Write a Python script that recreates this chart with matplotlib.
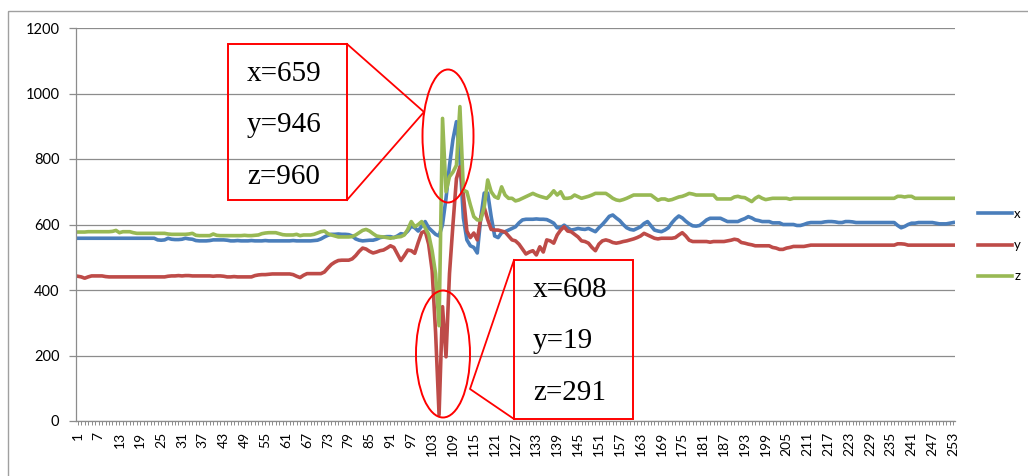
import matplotlib.pyplot as plt
from matplotlib.patches import Ellipse, Rectangle
import numpy as np

plt.rcParams['font.family'] = ['Lato', 'DejaVu Sans']

# series, one value per sample (1..253)
x_vals = [
    558, 558, 558, 558, 558, 558, 558, 558, 558, 558,
    558, 558, 558, 558, 558, 558, 558, 558, 558, 558,
    558, 558, 558, 553, 552, 553, 558, 555, 554, 554,
    555, 558, 556, 555, 551, 550, 550, 550, 551, 553,
    553, 553, 553, 552, 550, 550, 551, 550, 550, 550,
    551, 550, 550, 550, 551, 550, 550, 550, 550, 550,
    550, 550, 551, 550, 550, 550, 550, 550, 551, 552,
    556, 562, 567, 570, 570, 571, 570, 570, 569, 565,
    556, 552, 550, 551, 552, 552, 555, 560, 562, 563,
    563, 560, 565, 572, 570, 580, 595, 590, 580, 595,
    609, 590, 580, 570, 565, 600, 680, 780, 860, 914,
    800, 620, 553, 535, 530, 513, 620, 696, 696, 624,
    565, 560, 575, 578, 583, 588, 593, 605, 614, 616,
    616, 616, 617, 616, 616, 615, 610, 604, 590, 590,
    598, 590, 583, 585, 588, 586, 585, 588, 583, 578,
    590, 600, 612, 625, 629, 620, 612, 600, 590, 585,
    583, 588, 593, 603, 609, 596, 583, 580, 578, 583,
    590, 605, 617, 626, 620, 610, 602, 596, 595, 597,
    605, 614, 619, 619, 619, 619, 614, 609, 609, 609,
    609, 614, 618, 624, 620, 614, 612, 609, 609, 609,
    605, 605, 605, 600, 600, 600, 600, 597, 597, 600,
    604, 606, 606, 606, 606, 608, 609, 609, 608, 606,
    606, 609, 609, 608, 606, 606, 606, 606, 606, 606,
    606, 606, 606, 606, 606, 606, 597, 590, 594, 600,
    604, 604, 606, 606, 606, 606, 606, 604, 602, 602,
    602, 604, 606,
]

y_vals = [
    442, 440, 436, 440, 443, 443, 443, 443, 441, 440,
    440, 440, 440, 440, 440, 440, 440, 440, 440, 440,
    440, 440, 440, 440, 440, 440, 442, 443, 443, 444,
    443, 444, 444, 443, 443, 443, 443, 443, 443, 442,
    443, 443, 442, 440, 440, 441, 440, 440, 440, 440,
    440, 444, 446, 447, 447, 448, 449, 449, 449, 449,
    449, 449, 447, 442, 438, 445, 450, 450, 450, 450,
    450, 455, 467, 478, 485, 490, 491, 491, 491, 495,
    505, 518, 528, 525, 518, 513, 516, 520, 522, 528,
    535, 530, 510, 490, 505, 522, 520, 512, 545, 575,
    580, 540, 460, 270, 19, 349, 196, 450, 600, 740,
    776, 690, 580, 560, 574, 553, 620, 652, 615, 585,
    583, 583, 580, 577, 565, 553, 550, 540, 525, 510,
    516, 520, 507, 532, 516, 553, 550, 543, 568, 583,
    593, 580, 578, 570, 562, 550, 548, 543, 530, 520,
    540, 550, 553, 550, 545, 543, 545, 548, 550, 553,
    556, 560, 565, 573, 568, 563, 558, 556, 558, 558,
    558, 558, 560, 568, 575, 565, 552, 548, 548, 548,
    548, 548, 546, 548, 548, 548, 548, 550, 552, 555,
    553, 545, 543, 540, 538, 535, 535, 535, 535, 535,
    530, 528, 524, 524, 528, 530, 533, 533, 533, 533,
    535, 537, 537, 537, 537, 537, 537, 537, 537, 537,
    537, 537, 537, 537, 537, 537, 537, 537, 537, 537,
    537, 537, 537, 537, 537, 537, 541, 541, 540, 537,
    537, 537, 537, 537, 537, 537, 537, 537, 537, 537,
    537, 537, 537,
]

z_vals = [
    577, 577, 577, 578, 578, 578, 578, 578, 578, 578,
    579, 582, 575, 578, 578, 578, 575, 573, 573, 573,
    573, 573, 573, 573, 573, 573, 571, 570, 570, 570,
    570, 570, 571, 573, 567, 566, 566, 566, 566, 571,
    567, 566, 566, 566, 566, 566, 566, 566, 567, 566,
    566, 567, 568, 572, 574, 575, 575, 575, 572, 569,
    568, 568, 568, 570, 566, 568, 568, 568, 570, 574,
    578, 580, 572, 568, 565, 562, 562, 562, 562, 563,
    568, 575, 582, 585, 580, 572, 565, 563, 562, 560,
    558, 560, 562, 563, 568, 585, 609, 593, 600, 609,
    590, 570, 520, 450, 291, 924, 700, 746, 760, 781,
    960, 705, 700, 660, 624, 614, 614, 654, 736, 700,
    685, 680, 715, 690, 680, 680, 672, 675, 680, 685,
    690, 695, 690, 686, 683, 680, 690, 703, 690, 700,
    680, 680, 682, 690, 685, 680, 683, 686, 690, 695,
    695, 695, 695, 688, 680, 675, 673, 676, 680, 685,
    690, 690, 690, 690, 690, 690, 682, 674, 678, 678,
    674, 676, 680, 684, 686, 690, 695, 693, 690, 690,
    690, 690, 690, 690, 678, 678, 678, 678, 678, 684,
    686, 683, 682, 676, 670, 680, 686, 680, 676, 678,
    680, 680, 680, 680, 680, 677, 680, 680, 680, 680,
    680, 680, 680, 680, 680, 680, 680, 680, 680, 680,
    680, 680, 680, 680, 680, 680, 680, 680, 680, 680,
    680, 680, 680, 680, 680, 680, 686, 686, 684, 686,
    686, 680, 680, 680, 680, 680, 680, 680, 680, 680,
    680, 680, 680,
]

top_note = ['x=659', 'y=946', 'z=960']
low_note = ['x=608', 'y=19', 'z=291']

W, H = 1028, 476
fig = plt.figure(figsize=(W / 100, H / 100), dpi=100)
ax = fig.add_axes([76 / W, (H - 421) / H, (955 - 76) / W, (421 - 28) / H])

idx = np.arange(1, len(x_vals) + 1)
ax.plot(idx, x_vals, color='#4A7EBB', lw=2.6, label='x')
ax.plot(idx, y_vals, color='#BE4B48', lw=2.6, label='y')
ax.plot(idx, z_vals, color='#98B954', lw=2.6, label='z')

ax.set_xlim(0.5, len(idx) + 0.5)
ax.set_ylim(0, 1200)
ax.set_yticks(range(0, 1201, 200))
ax.grid(axis='y', color='#8c8c8c', lw=0.9)
ax.set_axisbelow(True)
for s in ['top', 'right']:
    ax.spines[s].set_visible(False)
for s in ['left', 'bottom']:
    ax.spines[s].set_color('#8c8c8c')
    ax.spines[s].set_linewidth(0.9)

ax.set_xticks(idx[::6])
ax.set_xticklabels([str(i) for i in idx[::6]], rotation=90, fontsize=10)
ax.set_xticks(idx, minor=True)
ax.tick_params(axis='x', which='both', length=3, width=0.7, color='#8c8c8c', pad=5)
ax.tick_params(axis='y', length=5, width=0.9, color='#8c8c8c', pad=7, labelsize=10.5)

ax.legend(loc='upper left', bbox_to_anchor=(978 / W, 1 - 208 / H),
          bbox_transform=fig.transFigure, frameon=False, fontsize=9.5,
          handlelength=2.6, handletextpad=0.15, labelspacing=1.45,
          borderpad=0, borderaxespad=0)

# overlay in pixel coordinates for the frame and the call-outs
ov = fig.add_axes([0, 0, 1, 1], facecolor='none')
ov.set_xlim(0, W)
ov.set_ylim(H, 0)
ov.axis('off')

ov.add_patch(Rectangle((8, 11), 1030, 480, fill=False, ec='#a0a0a0', lw=1.0))

red = '#ff0000'
ov.add_patch(Rectangle((228, 44), 119, 156, fill=False, ec=red, lw=1.4))
ov.plot([347, 424, 347], [44, 112, 200], color=red, lw=1.3)
ov.add_patch(Ellipse((448, 136), 51, 133, fill=False, ec=red, lw=1.4))

ov.add_patch(Rectangle((514, 260), 119, 159, fill=False, ec=red, lw=1.4))
ov.plot([514, 470, 514], [260, 389, 419], color=red, lw=1.3)
ov.add_patch(Ellipse((443, 354), 54, 127, fill=False, ec=red, lw=1.4))

for k, t in enumerate(top_note):
    ov.text(247, 81 + 51.5 * k, t, fontsize=21, family='Liberation Serif', va='baseline')
for k, t in enumerate(low_note):
    ov.text(533, 297 + 51.5 * k, t, fontsize=21, family='Liberation Serif', va='baseline')

fig.savefig('out.png', dpi=100)
